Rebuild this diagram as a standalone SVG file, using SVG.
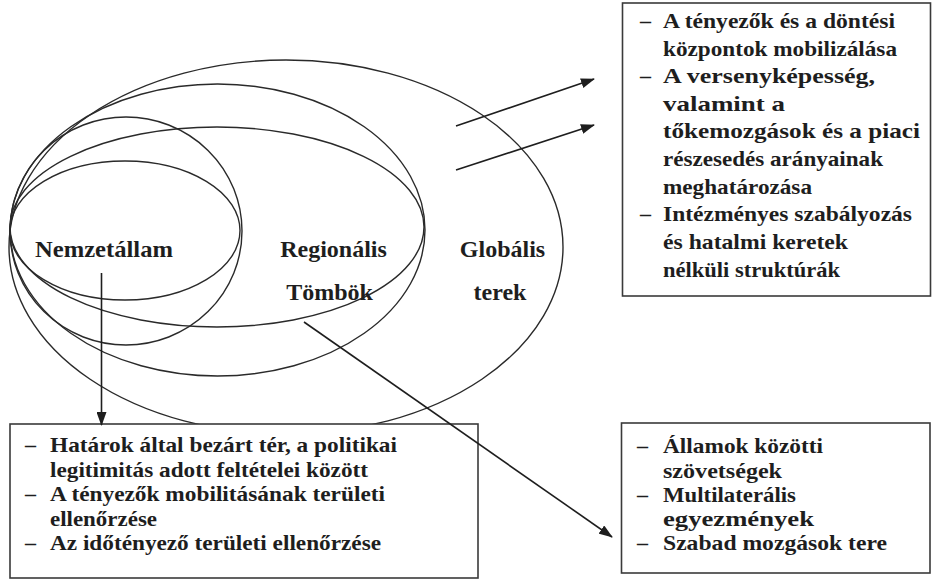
<svg xmlns="http://www.w3.org/2000/svg" width="933" height="580" viewBox="0 0 933 580">
<defs>
<marker id="ah" viewBox="0 0 14 10" refX="13" refY="5" markerWidth="14" markerHeight="10" markerUnits="userSpaceOnUse" orient="auto">
<path d="M0,0 L14,5 L0,10 Z" fill="#1e1e1e"/>
</marker>
<style>
.ell{fill:none;stroke:#2a2a2a;stroke-width:1.4}
.box{fill:#fff;stroke:#3a3a3a;stroke-width:1.6}
.lbl{font-family:"Liberation Serif","Times New Roman",serif;font-weight:bold;font-size:24px;fill:#1e1e1e;text-anchor:middle}
.t{font-family:"Liberation Serif","Times New Roman",serif;font-weight:bold;font-size:22px;fill:#1e1e1e}
.con{fill:none;stroke:#1e1e1e;stroke-width:1.6;marker-end:url(#ah)}
</style>
</defs>
<rect width="933" height="580" fill="#fff"/>
<g id="ellipses">
<ellipse class="ell" cx="286" cy="247" rx="277" ry="187"/>
<ellipse class="ell" cx="217.5" cy="230" rx="207.5" ry="146"/>
<ellipse class="ell" cx="126" cy="231" rx="116" ry="114"/>
<ellipse class="ell" cx="217" cy="227" rx="207" ry="100"/>
<ellipse class="ell" cx="125" cy="230.5" rx="115" ry="69.5"/>
</g>
<g id="labels">
<text class="lbl" x="104" y="257" textLength="138" lengthAdjust="spacingAndGlyphs">Nemzetállam</text>
<text class="lbl" x="333.5" y="257">Regionális</text>
<text class="lbl" x="329.5" y="300">Tömbök</text>
<text class="lbl" x="502.5" y="257">Globális</text>
<text class="lbl" x="500" y="300">terek</text>
</g>
<g id="box-global">
<rect class="box" x="622.5" y="3" width="308" height="293"/>
<text class="t" x="640" y="28">–</text>
<text class="t" x="663" y="28" textLength="232" lengthAdjust="spacingAndGlyphs">A tényezők és a döntési</text>
<text class="t" x="663" y="55.5" textLength="234" lengthAdjust="spacingAndGlyphs">központok mobilizálása</text>
<text class="t" x="640" y="83">–</text>
<text class="t" x="663" y="83" textLength="212" lengthAdjust="spacingAndGlyphs">A versenyképesség,</text>
<text class="t" x="663" y="110.5" textLength="122" lengthAdjust="spacingAndGlyphs">valamint  a</text>
<text class="t" x="663" y="138" textLength="257" lengthAdjust="spacingAndGlyphs">tőkemozgások és a piaci</text>
<text class="t" x="663" y="166" textLength="220" lengthAdjust="spacingAndGlyphs">részesedés arányainak</text>
<text class="t" x="663" y="193.5" textLength="149" lengthAdjust="spacingAndGlyphs">meghatározása</text>
<text class="t" x="640" y="221">–</text>
<text class="t" x="663" y="221" textLength="249" lengthAdjust="spacingAndGlyphs">Intézményes  szabályozás</text>
<text class="t" x="663" y="249" textLength="185" lengthAdjust="spacingAndGlyphs">és hatalmi  keretek</text>
<text class="t" x="663" y="277" textLength="177" lengthAdjust="spacingAndGlyphs">nélküli  struktúrák</text>
</g>
<g id="box-national">
<rect class="box" x="10" y="424" width="468" height="154"/>
<text class="t" x="25" y="452">–</text>
<text class="t" x="50" y="452" textLength="347" lengthAdjust="spacingAndGlyphs">Határok  által  bezárt  tér, a politikai</text>
<text class="t" x="50" y="476.5" textLength="318" lengthAdjust="spacingAndGlyphs">legitimitás  adott  feltételei között</text>
<text class="t" x="25" y="501">–</text>
<text class="t" x="50" y="501" textLength="335" lengthAdjust="spacingAndGlyphs">A tényezők mobilitásának  területi</text>
<text class="t" x="50" y="525.5" textLength="107" lengthAdjust="spacingAndGlyphs">ellenőrzése</text>
<text class="t" x="25" y="550">–</text>
<text class="t" x="50" y="550" textLength="331" lengthAdjust="spacingAndGlyphs">Az időtényező  területi ellenőrzése</text>
</g>
<g id="box-regional">
<rect class="box" x="621.5" y="423" width="308.5" height="150"/>
<text class="t" x="637" y="453">–</text>
<text class="t" x="663" y="453" textLength="160" lengthAdjust="spacingAndGlyphs">Államok  közötti</text>
<text class="t" x="663" y="477.5" textLength="119" lengthAdjust="spacingAndGlyphs">szövetségek</text>
<text class="t" x="637" y="502">–</text>
<text class="t" x="663" y="502" textLength="133" lengthAdjust="spacingAndGlyphs">Multilaterális</text>
<text class="t" x="663" y="526" textLength="151" lengthAdjust="spacingAndGlyphs">egyezmények</text>
<text class="t" x="637" y="550">–</text>
<text class="t" x="663" y="550" textLength="224" lengthAdjust="spacingAndGlyphs">Szabad mozgások tere</text>
</g>
<g id="connectors">
<line class="con" x1="456" y1="126" x2="594" y2="79"/>
<line class="con" x1="456" y1="170" x2="594" y2="125"/>
<line class="con" x1="101.5" y1="273" x2="101.5" y2="425"/>
<line class="con" x1="304" y1="322" x2="612" y2="537"/>
</g>
</svg>
